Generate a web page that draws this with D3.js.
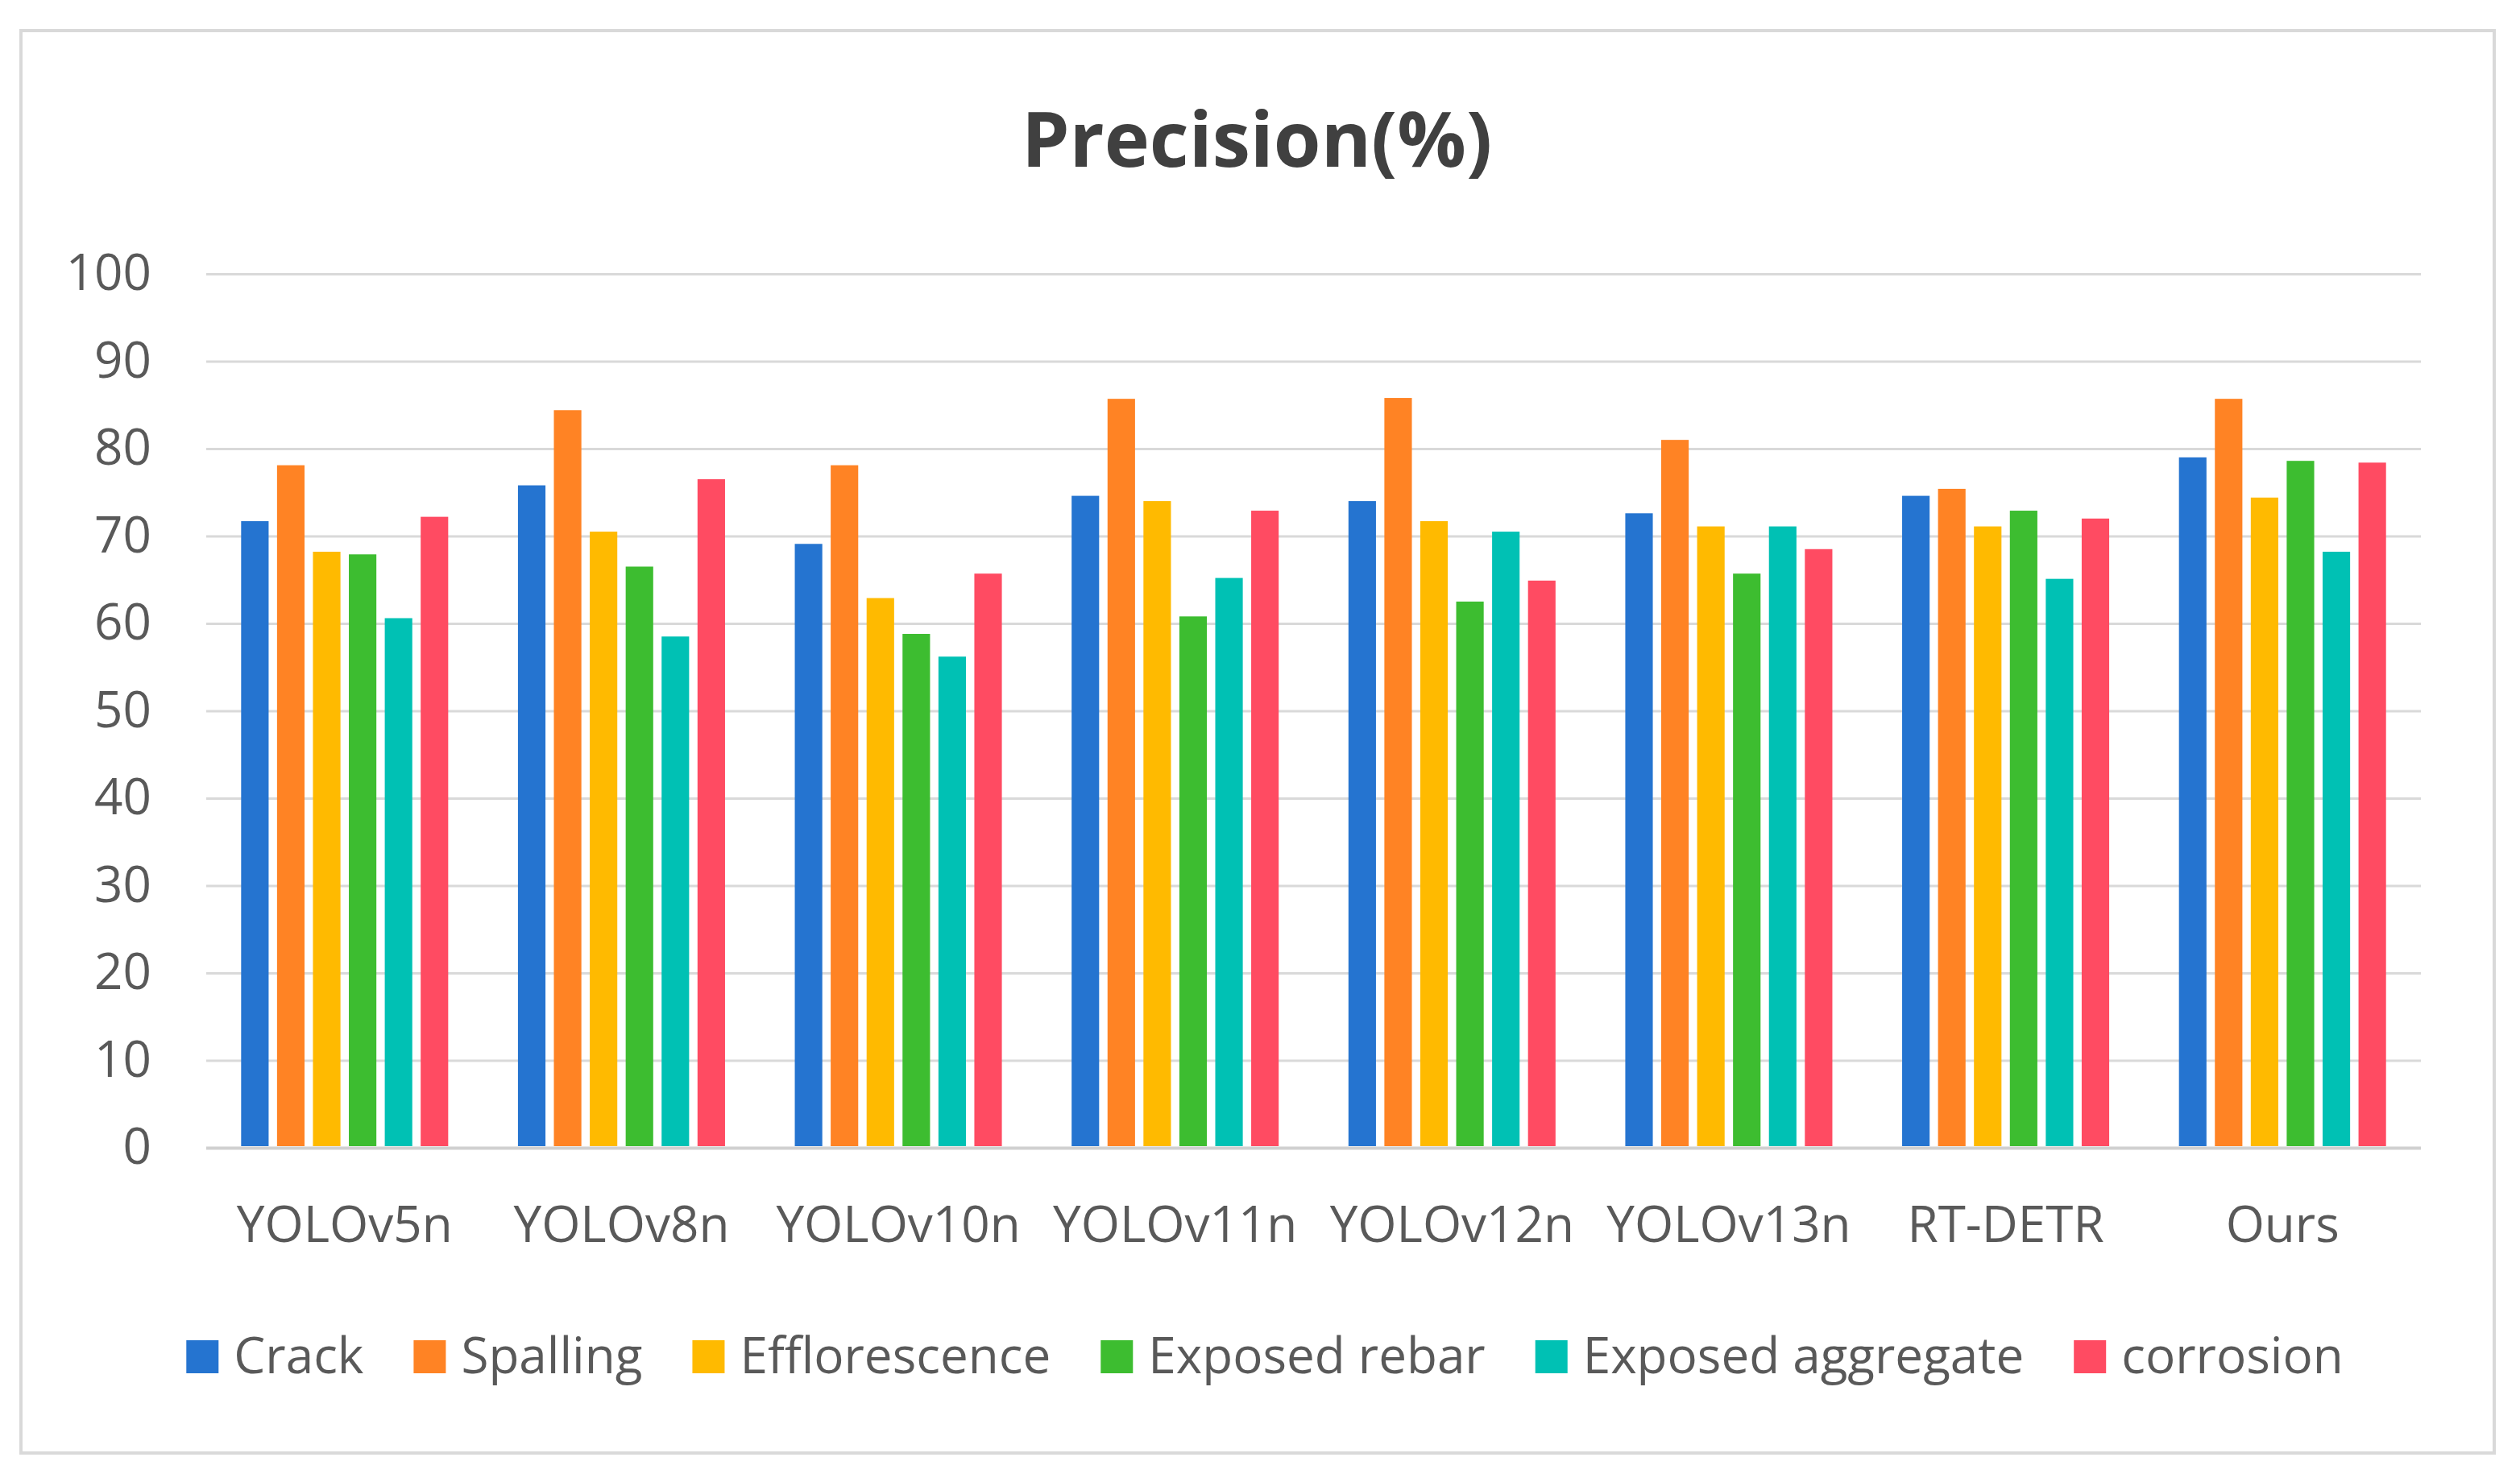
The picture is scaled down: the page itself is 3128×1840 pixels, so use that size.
<!DOCTYPE html>
<html>
<head>
<meta charset="utf-8">
<script src="https://cdn.jsdelivr.net/npm/d3@7"></script>
<style>
  body { margin: 0; background: #fff; }
  svg { display: block; font-family: "Open Sans", "Noto Sans", sans-serif; }
</style>
</head>
<body>
<svg width="3128" height="1840"></svg>
<script>
var models = ["YOLOv5n", "YOLOv8n", "YOLOv10n", "YOLOv11n", "YOLOv12n", "YOLOv13n", "RT-DETR", "Ours"];
var classes = ["Crack", "Spalling", "Efflorescence", "Exposed rebar", "Exposed aggregate", "corrosion"];
var colors = ["#2574D0", "#FF8324", "#FFBA00", "#3DBD30", "#00C1B4", "#FF4B62"];

var crack         = [71.7, 75.8, 69.1, 74.6, 74.0, 72.6, 74.6, 79.0];
var spalling      = [78.1, 84.4, 78.1, 85.7, 85.8, 81.0, 75.4, 85.7];
var efflorescence = [68.2, 70.5, 62.9, 74.0, 71.7, 71.1, 71.1, 74.4];
var rebar         = [67.9, 66.5, 58.8, 60.8, 62.5, 65.7, 72.9, 78.6];
var aggregate     = [60.6, 58.5, 56.2, 65.2, 70.5, 71.1, 65.1, 68.2];
var corrosion     = [72.2, 76.5, 65.7, 72.9, 64.9, 68.5, 72.0, 78.4];
var series = [crack, spalling, efflorescence, rebar, aggregate, corrosion];

var yTicks = [0, 10, 20, 30, 40, 50, 60, 70, 80, 90, 100];

var width = 3128;
var height = 1840;
var margin = {left: 256, right: 123, top: 340, bottom: 415};
var plotW = width - margin.left - margin.right;
var plotH = height - margin.top - margin.bottom;

var svg = d3.select("svg");

// chart border
svg.append("rect")
  .attr("x", 26).attr("y", 38)
  .attr("width", 3070).attr("height", 1766)
  .attr("fill", "#fff")
  .attr("stroke", "#D9D9D9")
  .attr("stroke-width", 4);

// title
svg.append("text")
  .attr("x", 1560).attr("y", 207)
  .attr("text-anchor", "middle")
  .attr("font-size", 95)
  .attr("font-weight", "bold")
  .attr("fill", "#404040")
  .text("Precision(%)");

var g = svg.append("g")
  .attr("transform", "translate(" + margin.left + "," + margin.top + ")");

var yScale = d3.scaleLinear().domain([0, 100]).range([plotH, 0]);
var groupScale = d3.scaleBand().domain(models).range([0, plotW]).paddingInner(0.252).paddingOuter(0.126);
var barScale = d3.scaleBand().domain(d3.range(classes.length)).range([0, groupScale.bandwidth()]).paddingInner(0.234);

// gridlines and y labels
var yAxis = g.append("g")
  .call(d3.axisLeft(yScale).tickValues(yTicks).tickSize(-plotW).tickPadding(68));
yAxis.select(".domain").remove();
yAxis.selectAll(".tick line")
  .attr("stroke", function(d) { return d === 0 ? "#D0D0D0" : "#D9D9D9"; })
  .attr("stroke-width", function(d) { return d === 0 ? 4 : 3; });
yAxis.selectAll(".tick text")
  .attr("font-size", 62)
  .attr("fill", "#595959")
  .attr("font-family", "'Open Sans', sans-serif");

// bars
var groups = g.selectAll(".model")
  .data(models)
  .enter()
  .append("g")
  .attr("class", "model")
  .attr("transform", function(d) { return "translate(" + groupScale(d) + ",0)"; });

groups.selectAll("rect")
  .data(function(d, i) { return series.map(function(s, k) { return {k: k, v: s[i]}; }); })
  .enter()
  .append("rect")
  .attr("x", function(d) { return barScale(d.k); })
  .attr("y", function(d) { return yScale(d.v); })
  .attr("width", barScale.bandwidth())
  .attr("height", function(d) { return yScale(0) - yScale(d.v) - 2; })
  .attr("fill", function(d) { return colors[d.k]; });

// category labels
var xAxis = g.append("g")
  .attr("transform", "translate(0," + plotH + ")")
  .call(d3.axisBottom(groupScale).tickSize(0));
xAxis.select(".domain").remove();
xAxis.selectAll(".tick text")
  .attr("y", 117)
  .attr("dy", 0)
  .attr("font-size", 62)
  .attr("fill", "#595959")
  .attr("font-family", "'Open Sans', sans-serif");

// legend
var legend = svg.append("g");
var items = legend.selectAll("g")
  .data(classes)
  .enter()
  .append("g");
items.append("rect")
  .attr("width", 40).attr("height", 41)
  .attr("y", 1664)
  .attr("fill", function(d, i) { return colors[i]; });
items.append("text")
  .attr("x", 59)
  .attr("y", 1705)
  .attr("font-size", 62)
  .attr("fill", "#595959")
  .text(function(d) { return d; });

var offset = 0;
var positions = [];
items.each(function() {
  positions.push(offset);
  var w = d3.select(this).select("text").node().getComputedTextLength();
  offset += 59 + w + 62;
});
var total = offset - 62;
var startX = 1570 - total / 2;
items.attr("transform", function(d, i) { return "translate(" + (startX + positions[i]) + ",0)"; });
</script>
</body>
</html>
